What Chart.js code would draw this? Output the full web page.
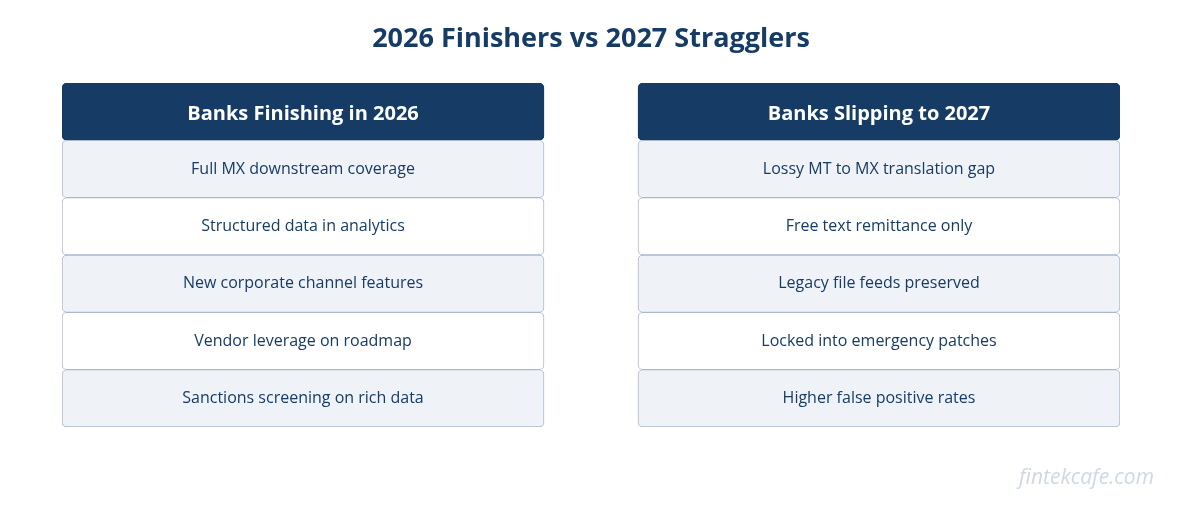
<!DOCTYPE html><html><head><meta charset="utf-8">
<script src="https://cdn.jsdelivr.net/npm/chart.js@4"></script>
<style>html,body{margin:0;padding:0;background:#fff}#w{width:1182px;height:510px}</style></head><body>
<div id="w"><canvas id="c"></canvas></div>
<script>
const titleText = "2026 Finishers vs 2027 Stragglers";
const rows = ["header","r1","r2","r3","r4","r5"];
const leftItems = ["Banks Finishing in 2026","Full MX downstream coverage","Structured data in analytics","New corporate channel features","Vendor leverage on roadmap","Sanctions screening on rich data"];
const rightItems = ["Banks Slipping to 2027","Lossy MT to MX translation gap","Free text remittance only","Legacy file feeds preserved","Locked into emergency patches","Higher false positive rates"];
const leftSpan = [0, 0.4556];
const rightSpan = [0.5444, 1];
const watermark = "fintekcafe.com";

const bg = rows.map((r,i)=> i===0 ? "#163c66" : (i%2===1 ? "#eff3f8" : "#ffffff"));
const bc = rows.map((r,i)=> i===0 ? "#163c66" : "#a9b8cc");

const textPlugin = {
  id:'txt',
  afterDatasetsDraw(chart){
    const ctx = chart.ctx;
    chart.data.datasets.forEach((ds,di)=>{
      const meta = chart.getDatasetMeta(di);
      meta.data.forEach((bar,i)=>{
        const p = bar.getProps(['x','y','base'],true);
        const cx = (p.x+p.base)/2;
        ctx.save();
        ctx.textAlign='center';ctx.textBaseline='middle';
        if(i===0){ctx.fillStyle='#ffffff';ctx.font='bold 20px "Open Sans"';}
        else {ctx.fillStyle='#163c66';ctx.font='16px "Open Sans"';}
        ctx.fillText(ds.items[i], cx, p.y+ (i===0?3:0));
        ctx.restore();
      });
    });
    ctx.save();
    ctx.textAlign='center';ctx.textBaseline='middle';
    ctx.fillStyle='#163c66';ctx.font='bold 27px "Open Sans"';
    ctx.fillText(titleText, 591, 39);
    ctx.textAlign='right';ctx.fillStyle='#cfd8e3';ctx.font='italic 21px "Open Sans"';
    ctx.fillText(watermark, 1154, 478);
    ctx.restore();
  }
};

new Chart(document.getElementById('c'),{
  type:'bar',
  data:{labels:rows,datasets:[
    {data:rows.map(()=>leftSpan),items:leftItems,backgroundColor:bg,borderColor:bc,borderWidth:1,borderRadius:5,borderSkipped:false},
    {data:rows.map(()=>rightSpan),items:rightItems,backgroundColor:bg,borderColor:bc,borderWidth:1,borderRadius:5,borderSkipped:false}
  ]},
  options:{
    indexAxis:'y',responsive:true,maintainAspectRatio:false,animation:false,
    layout:{padding:{top:83,bottom:83,left:62,right:62}},
    grouped:false,
    datasets:{bar:{barPercentage:1,categoryPercentage:1,grouped:false}},
    scales:{x:{type:'linear',min:0,max:1,display:false},y:{display:false}},
    plugins:{legend:{display:false},tooltip:{enabled:false}}
  },
  plugins:[textPlugin]
});
</script></body></html>
